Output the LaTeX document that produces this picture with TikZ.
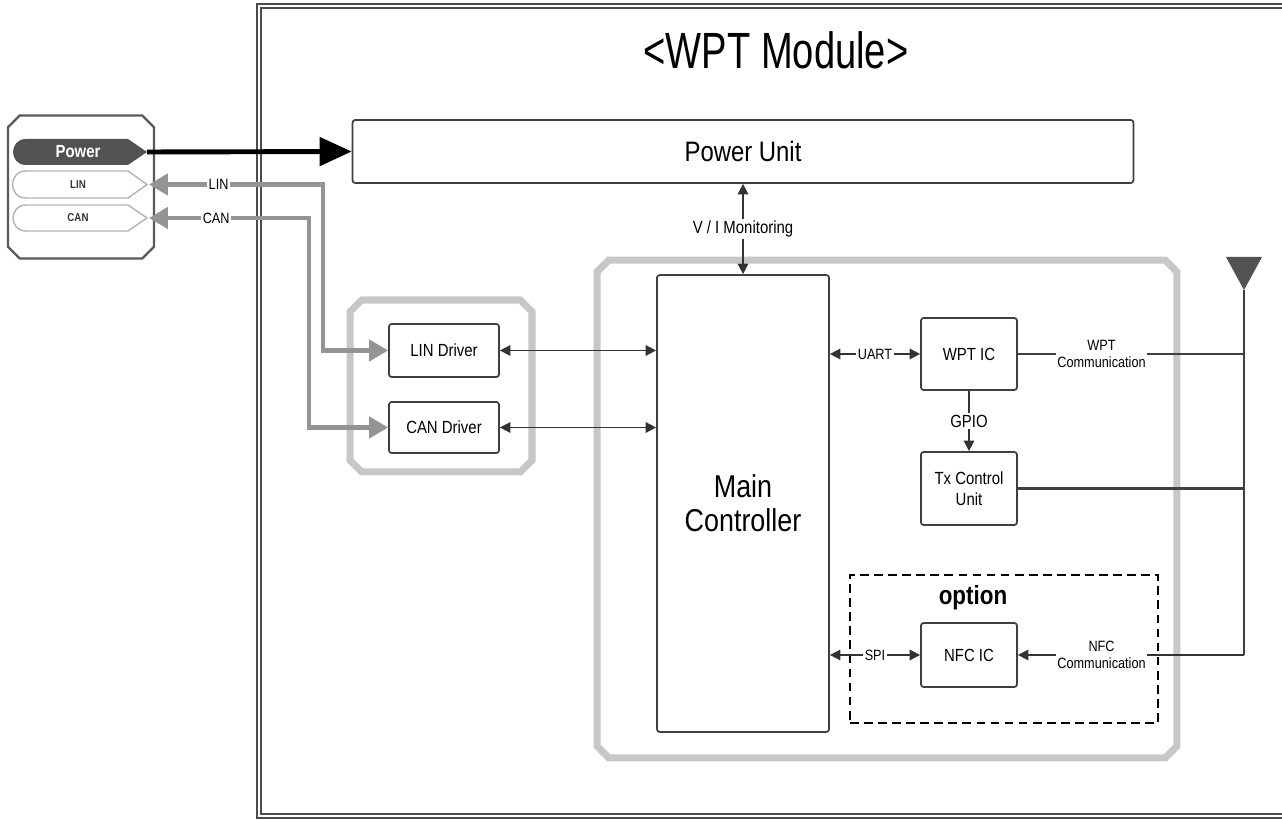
\documentclass[tikz,border=0pt]{standalone}
\usepackage{fontspec}
\setmainfont{Liberation Sans}[FakeStretch=0.85]
\usetikzlibrary{arrows.meta,shapes.misc}

\begin{document}
\begin{tikzpicture}[x=0.02cm,y=-0.02cm,
  box/.style={draw=black!75,line width=1pt,rounded corners=1.5pt,fill=white,align=center,font=\fontsize{10}{12}\selectfont},
  grp/.style={chamfered rectangle,chamfered rectangle xsep=0.22cm,draw=black!22,line width=4pt},
  lbl/.style={fill=white,inner sep=1pt,align=center,font=\fontsize{8.5}{9.5}\selectfont},
  tag/.style={font=\bfseries\fontsize{6.5}{8}\selectfont,text=black!80},
  biarr/.style={{Triangle[length=6pt,width=6pt]}-{Triangle[length=6pt,width=6pt]},draw=black!80,line width=0.9pt},
  arr/.style={-{Triangle[length=6pt,width=6pt]},draw=black!80,line width=0.9pt},
  ln/.style={draw=black!75,line width=1.2pt},
  bus/.style={{Triangle[length=0.38cm,width=0.42cm]}-{Triangle[length=0.38cm,width=0.42cm]},draw=black!42,line width=2.6pt},
  pwr/.style={-{Triangle[length=0.64cm,width=0.56cm]},draw=black,line width=2.8pt}]
% Frame
\clip (0,0) rectangle (1282,820);
\draw[double=white,double distance=1.6pt,draw=black!70,line width=0.7pt] (259,6) rectangle (1300,816);
\node[font=\fontsize{29}{31}\selectfont] (title) at (776,50) {\scalebox{0.88}[1]{<WPT Module>}};
% Connector
\node[chamfered rectangle,chamfered rectangle xsep=0.2cm,draw=black!65,line width=1.3pt,minimum width=2.92cm,minimum height=2.86cm] (conn) at (81,187) {};
\fill[black!68] (26,139) -- (128,139) -- (147,152) -- (128,165) -- (26,165) to[out=180,in=180,looseness=1.7] (26,139) -- cycle;
\draw[black!30,line width=0.8pt] (26,171) -- (128,171) -- (147,184.5) -- (128,198) -- (26,198) to[out=180,in=180,looseness=1.7] (26,171) -- cycle;
\draw[black!30,line width=0.8pt] (26,205) -- (128,205) -- (147,218) -- (128,231) -- (26,231) to[out=180,in=180,looseness=1.7] (26,205) -- cycle;
\node[font=\bfseries\fontsize{10}{12}\selectfont,text=white] (tpow) at (78,152) {Power};
\node[tag] (tlin) at (78,184.5) {LIN};
\node[tag] (tcan) at (78,218) {CAN};
\coordinate (powtip) at (147,152);
\coordinate (lintip) at (149,184.5);
\coordinate (cantip) at (149,218);
% Groups
\node[grp,minimum width=3.64cm,minimum height=3.44cm] (drv) at (441,386) {};
\node[grp,minimum width=11.6cm,minimum height=9.96cm] (ctl) at (887,509) {};
\node[draw=black,line width=1.1pt,dash pattern=on 5pt off 3pt,minimum width=6.16cm,minimum height=2.96cm] (opt) at (1004,649) {};
\node[font=\bfseries\fontsize{15}{17}\selectfont] (optlbl) at (973,598) {option};
% Blocks
\node[box,minimum width=15.62cm,minimum height=1.26cm,font=\fontsize{16}{18}\selectfont] (pu) at (743,151.5) {Power Unit};
\node[box,minimum width=2.2cm,minimum height=1.06cm] (lin) at (444,350.5) {LIN Driver};
\node[box,minimum width=2.2cm,minimum height=1.02cm] (can) at (444,427.5) {CAN Driver};
\node[box,minimum width=3.44cm,minimum height=9.14cm,font=\fontsize{18}{19.5}\selectfont] (mc) at (743,503.5) {Main\\Controller};
\node[box,minimum width=1.92cm,minimum height=1.44cm] (wpt) at (969,354) {WPT IC};
\node[box,minimum width=1.92cm,minimum height=1.46cm] (tx) at (969,488.5) {Tx Control\\Unit};
\node[box,minimum width=1.92cm,minimum height=1.28cm] (nfc) at (969,655) {NFC IC};
% Buses
\coordinate (linbend) at (323,184.5);
\coordinate (canbend) at (309,218);
\draw[pwr] (powtip) -- (pu.west);
\draw[bus] (lin.west) -| (linbend) -- node[lbl,pos=0.6]{LIN} (lintip);
\draw[bus] (can.west) -| (canbend) -- node[lbl,pos=0.58]{CAN} (cantip);
% Links
\draw[biarr] (lin.east) -- (mc.west |- lin.east);
\draw[biarr] (can.east) -- (mc.west |- can.east);
\draw[biarr] (pu.south) -- node[lbl,font=\fontsize{10}{12}\selectfont]{V / I Monitoring} (mc.north);
\draw[biarr] (mc.east |- wpt.west) -- node[lbl]{UART} (wpt.west);
\draw[arr] (wpt.south) -- node[lbl,font=\fontsize{10}{12}\selectfont]{GPIO} (tx.north);
\draw[biarr] (mc.east |- nfc.west) -- node[lbl]{SPI} (nfc.west);
% Antenna
\coordinate (ant) at (1244,290);
\fill[black!68] (1226,257) -- (1262,257) -- (ant) -- cycle;
\draw[ln] (ant) -- (ant |- nfc.east);
\draw[ln] (wpt.east) -- node[lbl,pos=0.37]{WPT\\Communication} (wpt.east -| ant);
\draw[ln] (tx.east) -- (tx.east -| ant);
\draw[arr] (nfc.east -| ant) -- node[lbl,pos=0.63]{NFC\\Communication} (nfc.east);
\end{tikzpicture}
\end{document}
